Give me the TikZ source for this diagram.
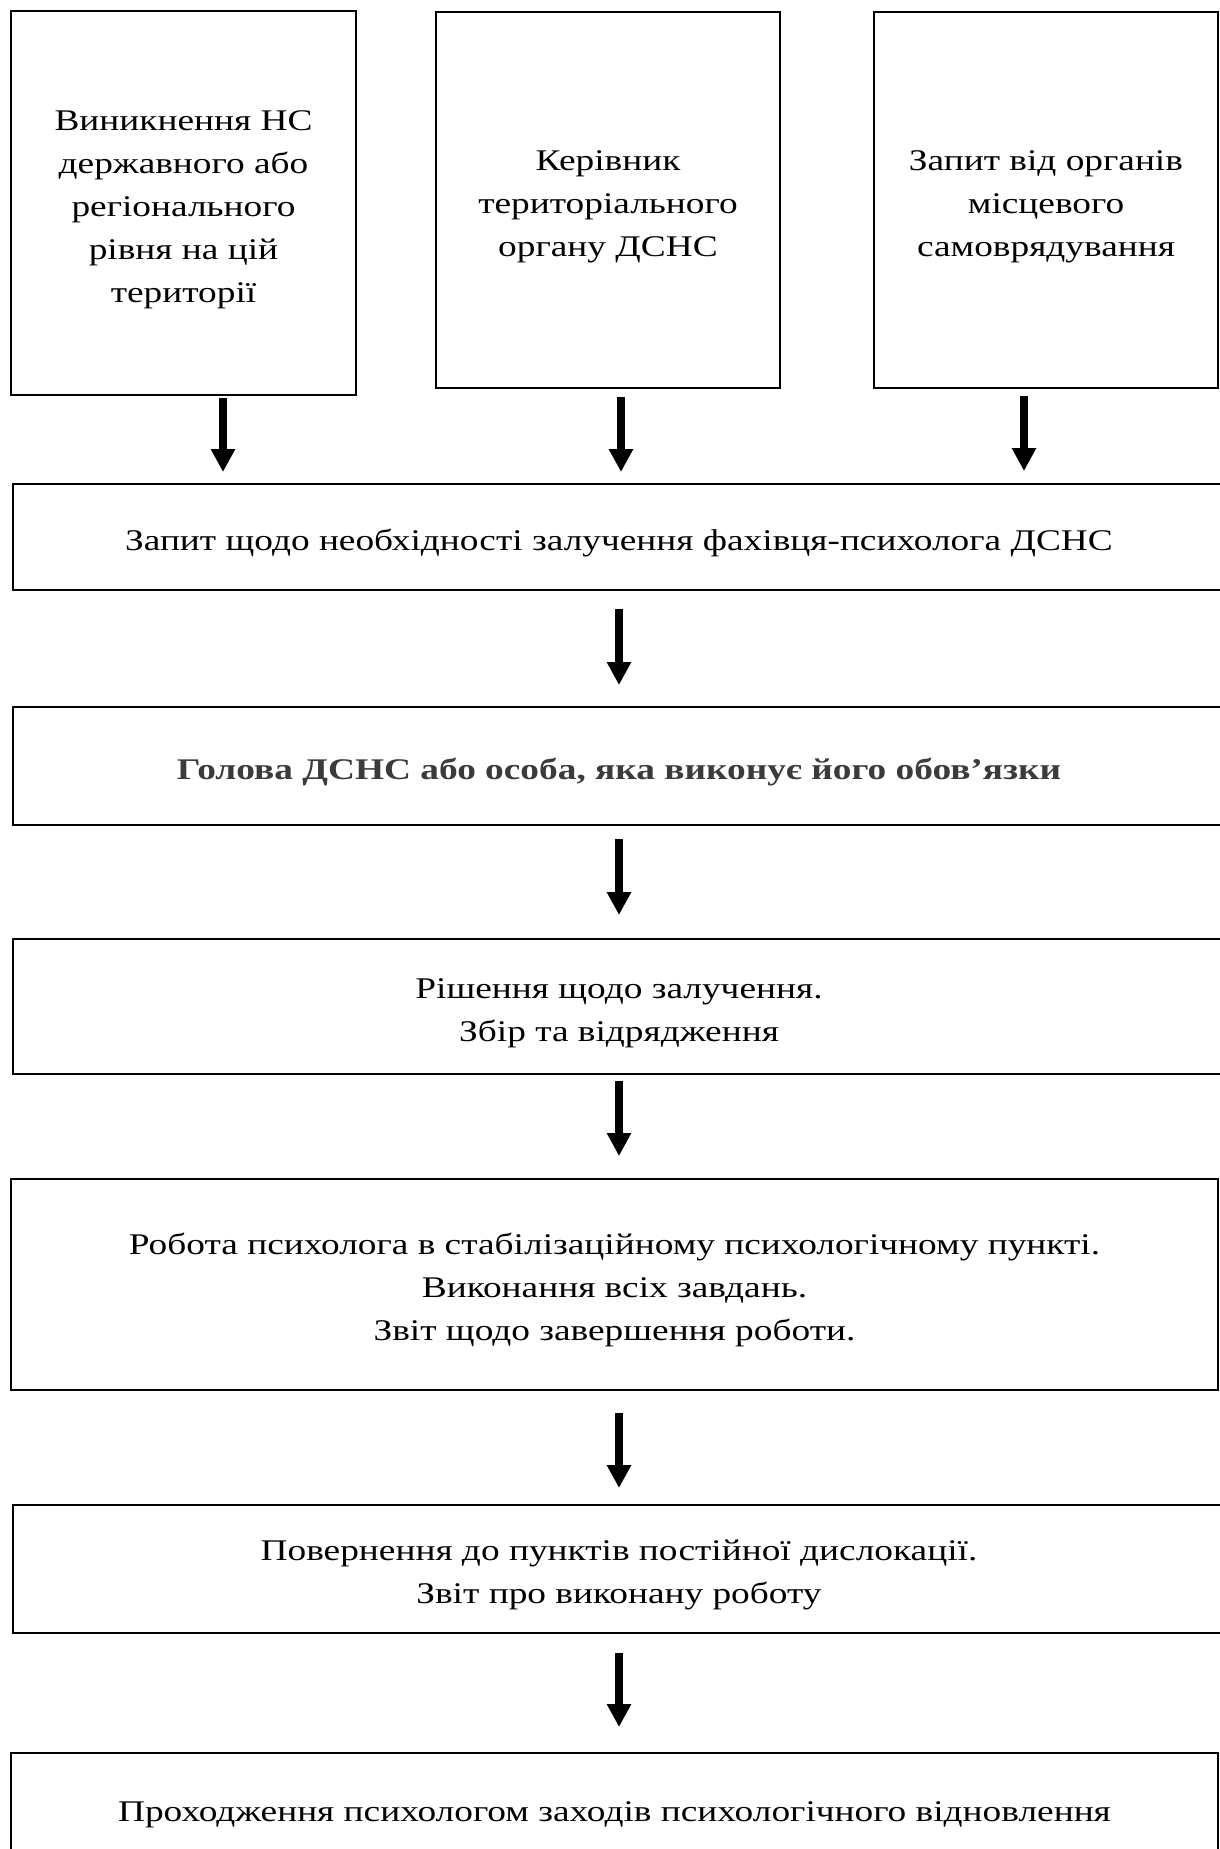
\documentclass[tikz,border=0pt]{standalone}
\usepackage{fontspec}
\setmainfont{Liberation Serif}[FakeStretch=1.245]
\usepackage{tikz}
\usetikzlibrary{arrows.meta, positioning, calc}
\definecolor{headgray}{rgb}{0.23,0.23,0.23}
\newcommand{\padtop}{\rule{0pt}{33pt}}

\begin{document}
\begin{tikzpicture}[x=1pt, y=-1pt,
    box/.style={rectangle, draw, line width=2pt, align=center, inner sep=0pt, font=\fontsize{30}{43}\selectfont},
    arrow/.style={-{Triangle[width=23pt, length=23pt]}, line width=8pt}
]
\useasboundingbox (0,0) rectangle (1220,1849);

% Sources (top row)
\node[box, minimum width=345pt, minimum height=384pt] (src1) at (183.5,203) {\padtop Виникнення НС\\державного або\\регіонального\\рівня на цій\\території};
\node[box, minimum width=344pt, minimum height=376pt] (src2) at (608,200) {\padtop Керівник\\територіального\\органу ДСНС};
\node[box, minimum width=344pt, minimum height=376pt] (src3) at (1046,200) {\padtop Запит від органів\\місцевого\\самоврядування};

% Steps
\node[box, minimum width=1212pt, minimum height=106pt] (req) at (619,537) {\padtop Запит щодо необхідності залучення фахівця-психолога ДСНС};
\node[box, minimum width=1212pt, minimum height=118pt, text=headgray] (head) at (619,766) {\padtop\bfseries Голова ДСНС або особа, яка виконує його обов’язки};
\node[box, minimum width=1212pt, minimum height=135pt] (dec) at (619,1006.5) {\padtop Рішення щодо залучення.\\Збір та відрядження};
\node[box, minimum width=1207pt, minimum height=211pt] (work) at (614.5,1284.5) {\padtop Робота психолога в стабілізаційному психологічному пункті.\\Виконання всіх завдань.\\Звіт щодо завершення роботи.};
\node[box, minimum width=1212pt, minimum height=128pt] (back) at (619,1569) {\padtop Повернення до пунктів постійної дислокації.\\Звіт про виконану роботу};
\node[box, minimum width=1207pt, minimum height=110pt] (rec) at (614.5,1808) {\padtop Проходження психологом заходів психологічного відновлення};

% Arrows
\draw[arrow, shorten <=2pt, shorten >=11pt] ([xshift=39.5pt]src1.south) -- ([xshift=39.5pt]src1.south |- req.north);
\draw[arrow, shorten <=8pt, shorten >=11pt] ([xshift=13pt]src2.south) -- ([xshift=13pt]src2.south |- req.north);
\draw[arrow, shorten <=7pt, shorten >=12pt] ([xshift=-22pt]src3.south) -- ([xshift=-22pt]src3.south |- req.north);
\draw[arrow, shorten <=18pt, shorten >=21pt] (req) -- (head);
\draw[arrow, shorten <=13pt, shorten >=23pt] (head) -- (dec);
\draw[arrow, shorten <=6pt, shorten >=22pt] (dec) -- (dec.south |- work.north);
\draw[arrow, shorten <=22pt, shorten >=16pt] (work.south -| back) -- (back);
\draw[arrow, shorten <=19pt, shorten >=25pt] (back) -- (back.south |- rec.north);

\end{tikzpicture}
\end{document}
